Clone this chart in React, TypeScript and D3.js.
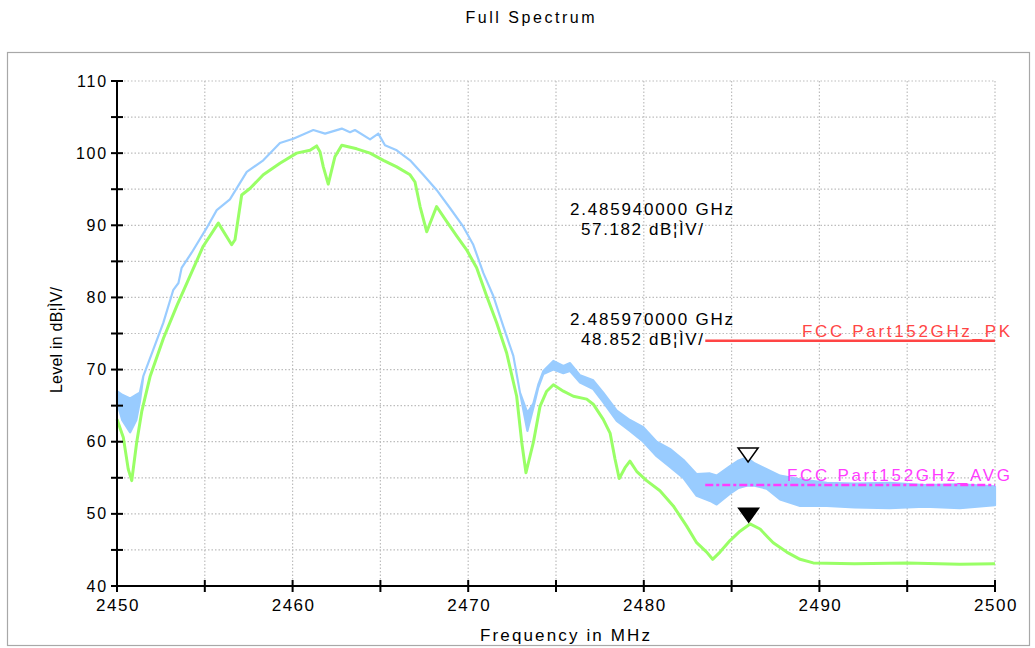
import React from 'react';
import * as d3 from 'd3';

const TITLE = 'Full Spectrum';
const X_LABEL = 'Frequency in MHz';
const Y_LABEL = 'Level in dB¦ÌV/';

const xMajorTicks = [2450, 2460, 2470, 2480, 2490, 2500];
const xMinorTicks = [2455, 2465, 2475, 2485, 2495];
const yMajorTicks = [40, 50, 60, 70, 80, 90, 100, 110];
const yMinorTicks = [45, 55, 65, 75, 85, 95, 105];

// Peak trace (blue): envelope of the noisy trace, low/high per frequency
const peakFreq = [2450.0, 2450.3, 2450.75, 2451.1, 2451.3, 2451.5, 2452.07, 2452.64, 2453.2, 2453.5, 2453.68, 2454.25, 2455.1, 2455.68, 2456.43, 2457.39, 2458.33, 2459.28, 2460.04, 2461.18, 2461.85, 2462.8, 2463.27, 2463.55, 2464.41, 2464.88, 2465.26, 2465.93, 2466.69, 2467.44, 2468.2, 2468.96, 2469.72, 2470.29, 2470.86, 2471.43, 2472.0, 2472.57, 2472.95, 2473.37, 2473.71, 2473.99, 2474.28, 2474.85, 2475.42, 2475.8, 2476.37, 2477.12, 2477.69, 2478.46, 2479.21, 2479.97, 2480.73, 2481.49, 2482.25, 2483.01, 2483.77, 2484.15, 2484.91, 2485.4, 2485.86, 2486.3, 2487.0, 2487.76, 2488.9, 2490.42, 2492, 2494, 2496, 2498, 2500];
const peakHigh = [67.0, 66.5, 66.0, 66.5, 66.8, 69.1, 72.8, 76.5, 81.0, 82.0, 84.1, 86.2, 89.6, 92.1, 93.6, 97.4, 99.0, 101.4, 102.0, 103.2, 102.7, 103.4, 102.9, 103.2, 101.9, 102.7, 101.1, 100.4, 99.0, 97.0, 94.9, 92.4, 89.8, 87.3, 83.4, 80.2, 76.0, 71.9, 66.8, 64.0, 65.3, 67.9, 69.8, 71.2, 70.5, 70.9, 69.2, 68.5, 66.8, 64.3, 63.0, 62.0, 60.0, 59.0, 57.5, 55.5, 55.6, 55.3, 56.6, 57.4, 57.8, 57.0, 56.2, 55.3, 54.8, 54.3, 54.2, 54.3, 54.0, 54.1, 53.8];
const peakLow = [65.5, 63.0, 61.3, 63.0, 65.5, 69.1, 72.8, 76.5, 81.0, 82.0, 84.1, 86.2, 89.6, 92.1, 93.6, 97.4, 99.0, 101.4, 102.0, 103.2, 102.7, 103.4, 102.9, 103.2, 101.9, 102.7, 101.1, 100.4, 99.0, 97.0, 94.9, 92.4, 89.8, 87.3, 83.4, 80.2, 76.0, 71.9, 66.8, 61.5, 64.7, 67.5, 69.4, 70.0, 69.5, 69.8, 68.2, 67.3, 65.5, 62.9, 61.5, 60.0, 58.0, 56.5, 55.0, 52.5, 51.8, 51.3, 52.8, 53.6, 53.9, 53.9, 53.5, 52.0, 51.1, 51.1, 50.9, 50.8, 51.0, 50.8, 51.2];

// Average trace (green)
const avgFreq = [2450.0, 2450.36, 2450.64, 2450.84, 2451.12, 2451.41, 2451.88, 2452.64, 2453.4, 2454.16, 2454.91, 2455.77, 2456.53, 2456.72, 2457.1, 2457.57, 2458.33, 2459.28, 2460.23, 2460.99, 2461.37, 2461.56, 2461.75, 2462.03, 2462.41, 2462.8, 2463.65, 2464.41, 2465.17, 2465.93, 2466.69, 2466.97, 2467.26, 2467.64, 2468.2, 2468.78, 2469.35, 2469.91, 2470.48, 2471.05, 2471.62, 2472.19, 2472.76, 2473.05, 2473.29, 2473.71, 2474.09, 2474.47, 2474.85, 2475.42, 2475.99, 2476.75, 2477.12, 2477.69, 2478.08, 2478.36, 2478.6, 2478.93, 2479.21, 2479.59, 2480.16, 2480.92, 2481.68, 2482.44, 2483.01, 2483.58, 2483.92, 2484.34, 2484.91, 2485.48, 2486.05, 2486.62, 2487.09, 2487.37, 2488.14, 2488.9, 2489.65, 2492, 2495, 2498, 2500];
const avgLevel = [63.1, 60.6, 56.2, 54.6, 59.9, 64.2, 69.0, 74.3, 78.8, 83.0, 87.1, 90.3, 87.3, 88.0, 94.2, 95.1, 97.0, 98.6, 100.0, 100.4, 101.0, 100.2, 98.1, 95.7, 99.5, 101.1, 100.6, 100.0, 99.0, 98.1, 97.0, 96.0, 92.6, 89.1, 92.6, 90.5, 88.5, 86.6, 84.1, 80.2, 76.5, 72.3, 66.3, 59.9, 55.7, 59.9, 64.9, 67.0, 67.9, 67.0, 66.3, 65.9, 65.2, 63.1, 61.2, 57.6, 54.9, 56.4, 57.3, 55.9, 54.6, 53.2, 51.1, 48.3, 46.0, 44.7, 43.7, 44.7, 46.3, 47.6, 48.6, 47.9, 46.7, 46.0, 44.7, 43.7, 43.2, 43.1, 43.2, 43.0, 43.1];

// Limit lines
const limitNames = ['FCC Part152GHz_PK', 'FCC Part152GHz_AVG'];
const limitLevels = [74, 54];
const limitStart = [2483.5, 2483.5];
const limitEnd = [2500, 2500];
const limitColors = ['#ff4545', '#ff3cff'];

// Markers
const markerFreqText = ['2.485940000 GHz', '2.485970000 GHz'];
const markerFreqMHz = [2485.94, 2485.97];
const markerLevels = [57.182, 48.852];
const markerFilled = [false, true];

const FONT = '"Liberation Sans", Arial, Helvetica, sans-serif';

export default function App() {
  const W = 1035, H = 648;
  const x = d3.scaleLinear().domain([2450, 2500]).range([117, 995]);
  const y = d3.scaleLinear().domain([40, 110]).range([586, 81]);

  const peakData = peakFreq.map((f, i) => ({ f, lo: peakLow[i], hi: peakHigh[i] }));
  const avgData = avgFreq.map((f, i) => ({ f, v: avgLevel[i] }));

  const peakArea = d3.area<any>().x(d => x(d.f)).y0(d => y(d.lo)).y1(d => y(d.hi))(peakData) || '';
  const avgLine = d3.line<any>().x(d => x(d.f)).y(d => y(d.v))(avgData) || '';

  const gridX = [...xMajorTicks, ...xMinorTicks].filter(v => v !== 2450);
  const gridY = [...yMajorTicks, ...yMinorTicks].filter(v => v !== 40);

  return (
    <svg width={W} height={H} style={{ position: 'absolute', left: 0, top: 0, background: '#fff' }} fontFamily={FONT}>
      <rect x={0} y={0} width={W} height={H} fill="#fff" />
      <text x={530} y={23} textAnchor="middle" fontSize={16} textLength={129} lengthAdjust="spacing" fill="#000">{TITLE}</text>
      <rect x={7.5} y={52.5} width={1022} height={593} fill="none" stroke="#a8a8a8" strokeWidth={1.2} />

      {/* grid */}
      <g stroke="#bdbdbd" strokeWidth={1.2} strokeDasharray="1.5,2">
        {gridX.map(v => <line key={'gx' + v} x1={x(v)} x2={x(v)} y1={y(110)} y2={y(40)} />)}
        {gridY.map(v => <line key={'gy' + v} x1={x(2450)} x2={x(2500)} y1={y(v)} y2={y(v)} />)}
      </g>

      {/* traces */}
      <path d={peakArea} fill="#99ccff" stroke="#99ccff" strokeWidth={2.2} strokeLinejoin="round" />
      <path d={avgLine} fill="none" stroke="#99ff66" strokeWidth={3} strokeLinejoin="round" />

      {/* limit lines */}
      {limitNames.map((n, i) => (
        <g key={n}>
          <line x1={x(limitStart[i])} x2={x(limitEnd[i])} y1={y(limitLevels[i])} y2={y(limitLevels[i])}
            stroke={limitColors[i]} strokeWidth={2.5} strokeDasharray={i === 1 ? '8,3,3,3' : undefined} />
          <text x={1010} y={y(limitLevels[i]) - 4} textAnchor="end" fontSize={17} fill={limitColors[i]}
            textLength={i === 0 ? 208 : 223} lengthAdjust="spacing">{n}</text>
        </g>
      ))}

      {/* markers */}
      {markerFreqMHz.map((f, i) => {
        const mx = x(f), my = y(markerLevels[i]);
        const pts = `${mx},${my} ${mx - 10},${my - 14} ${mx + 10},${my - 14}`;
        return <polygon key={'m' + i} points={pts} fill={markerFilled[i] ? '#000' : '#fff'} stroke="#000" strokeWidth={1.5} strokeLinejoin="miter" />;
      })}

      {/* marker readouts */}
      {markerFreqText.map((t, i) => {
        const by = i === 0 ? 215 : 325;
        return (
          <g key={'r' + i} fontSize={17} fill="#000">
            <text x={570} y={by} textLength={163} lengthAdjust="spacing">{t}</text>
            <text x={581} y={by + 20} textLength={122} lengthAdjust="spacing">{`${markerLevels[i].toFixed(3)} dB¦ÌV/`}</text>
          </g>
        );
      })}

      {/* axes */}
      <g stroke="#000" strokeWidth={2}>
        <line x1={x(2450)} x2={x(2450)} y1={y(110)} y2={y(40) + 1} />
        <line x1={x(2450) - 1} x2={x(2500)} y1={y(40)} y2={y(40)} />
        {[...yMajorTicks, ...yMinorTicks].map(v => <line key={'yt' + v} x1={x(2450) - 6} x2={x(2450) + 6} y1={y(v)} y2={y(v)} />)}
        {[...xMajorTicks, ...xMinorTicks].map(v => <line key={'xt' + v} x1={x(v)} x2={x(v)} y1={y(40) - 6} y2={y(40) + 6} />)}
      </g>
      <g fill="#000">
        {yMajorTicks.map(v => (
          <text key={'yl' + v} x={x(2450) - 9} y={y(v) + 5.5} textAnchor="end" fontSize={16} letterSpacing={1.8}>{v}</text>
        ))}
        {xMajorTicks.map(v => (
          <text key={'xl' + v} x={x(v) + 1} y={611} textAnchor="middle" fontSize={17} letterSpacing={1.5}>{v}</text>
        ))}
      </g>
      <text x={565} y={641} textAnchor="middle" fontSize={17} textLength={170} lengthAdjust="spacing">{X_LABEL}</text>
      <text transform="translate(62,340) rotate(-90)" textAnchor="middle" fontSize={16} textLength={106} lengthAdjust="spacing">{Y_LABEL}</text>
    </svg>
  );
}
